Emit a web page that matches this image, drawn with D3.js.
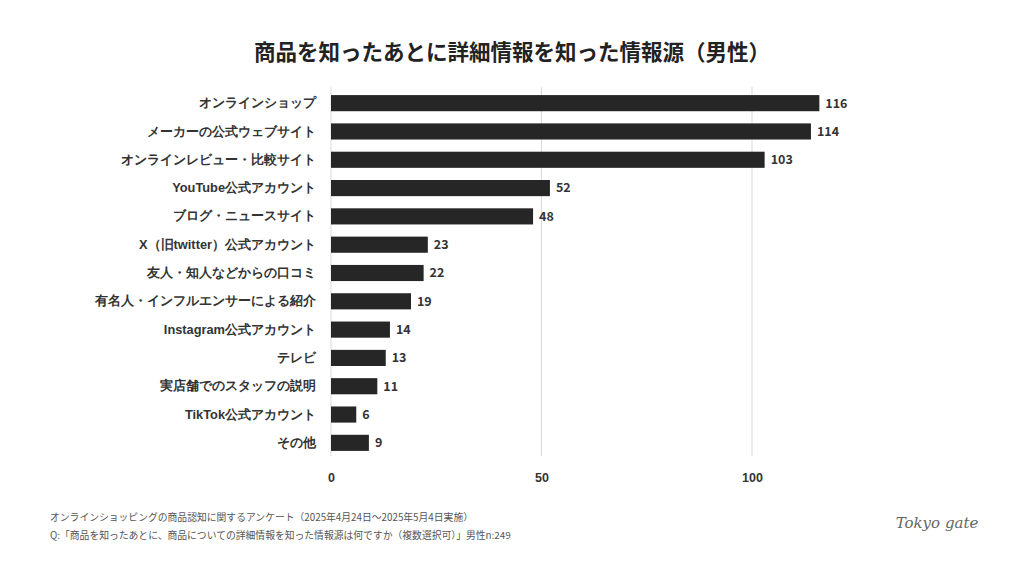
<!DOCTYPE html>
<html>
<head>
<meta charset="utf-8">
<script src="https://cdn.jsdelivr.net/npm/d3@7"></script>
<style>
  body { margin: 0; background: #fff; }
  svg { display: block; font-family: "Noto Sans CJK JP", "Noto Sans", sans-serif; }
</style>
</head>
<body>
<div id="chart"></div>
<script>
// Data
const categories = [
    'オンラインショップ',
    'メーカーの公式ウェブサイト',
    'オンラインレビュー・比較サイト',
    'YouTube公式アカウント',
    'ブログ・ニュースサイト',
    'X（旧twitter）公式アカウント',
    '友人・知人などからの口コミ',
    '有名人・インフルエンサーによる紹介',
    'Instagram公式アカウント',
    'テレビ',
    '実店舗でのスタッフの説明',
    'TikTok公式アカウント',
    'その他'
];
const values = [116, 114, 103, 52, 48, 23, 22, 19, 14, 13, 11, 6, 9];
const xTicks = [0, 50, 100];

const titleText = '商品を知ったあとに詳細情報を知った情報源（男性）';
const noteLines = [
    'オンラインショッピングの商品認知に関するアンケート（2025年4月24日〜2025年5月4日実施）',
    'Q:「商品を知ったあとに、商品についての詳細情報を知った情報源は何ですか（複数選択可）」男性n:249'
];

const W = 1024, H = 576;
const plot = { left: 331, right: 752, top: 89, bottom: 457 };

const svg = d3.select('#chart').append('svg')
    .attr('width', W)
    .attr('height', H);

// scales
const x = d3.scaleLinear()
    .domain([0, 100])
    .range([plot.left, plot.right]);

const y = d3.scaleBand()
    .domain(categories)
    .range([plot.top, plot.bottom])
    .paddingInner(0.43)
    .paddingOuter(0.215);

// title
svg.append('text')
    .attr('x', 512)
    .attr('y', 60)
    .attr('text-anchor', 'middle')
    .style('font-size', '21.5px')
    .style('font-weight', 'bold')
    .attr('fill', '#222')
    .text(titleText);

// gridlines
svg.append('g')
    .selectAll('line')
    .data(xTicks)
    .join('line')
    .attr('x1', d => x(d))
    .attr('x2', d => x(d))
    .attr('y1', plot.top - 2)
    .attr('y2', plot.bottom - 1)
    .attr('stroke', '#d9d9d9')
    .attr('stroke-width', 1);

// x axis labels
const xAxis = svg.append('g')
    .attr('transform', `translate(0,${plot.bottom})`)
    .call(d3.axisBottom(x).tickValues(xTicks).tickSize(0).tickPadding(16));
xAxis.select('.domain').remove();
xAxis.selectAll('text')
    .style('font-size', '12.5px')
    .style('font-weight', 'bold')
    .attr('fill', '#333');

// y axis labels
const yAxis = svg.append('g')
    .attr('transform', `translate(${plot.left - 15},0)`)
    .call(d3.axisLeft(y).tickSize(0).tickPadding(0));
yAxis.select('.domain').remove();
yAxis.selectAll('text')
    .style('font-size', '12.8px')
    .style('font-weight', 'bold')
    .attr('fill', '#333');

// bars
const rows = categories.map((c, i) => ({ cat: c, val: values[i] }));

svg.append('g')
    .selectAll('rect')
    .data(rows)
    .join('rect')
    .attr('x', x(0))
    .attr('y', d => y(d.cat))
    .attr('width', d => x(d.val) - x(0))
    .attr('height', y.bandwidth())
    .attr('fill', '#262626');

// value labels
svg.append('g')
    .selectAll('text')
    .data(rows)
    .join('text')
    .attr('x', d => x(d.val) + 6)
    .attr('y', d => y(d.cat) + y.bandwidth() / 2)
    .attr('dy', '0.35em')
    .style('font-size', '12.5px')
    .style('font-weight', 'bold')
    .attr('fill', '#333')
    .text(d => d.val);

// footnote
svg.append('g')
    .selectAll('text')
    .data(noteLines)
    .join('text')
    .attr('x', 50)
    .attr('y', (d, i) => 521 + i * 18)
    .style('font-size', '9.8px')
    .attr('fill', '#555')
    .text(d => d);

// logo
svg.append('text')
    .attr('x', 937)
    .attr('y', 528)
    .attr('text-anchor', 'middle')
    .style('font-family', '"DejaVu Serif", serif')
    .style('font-style', 'italic')
    .style('font-size', '15px')
    .attr('fill', '#666')
    .text('Tokyo gate');
</script>
</body>
</html>
